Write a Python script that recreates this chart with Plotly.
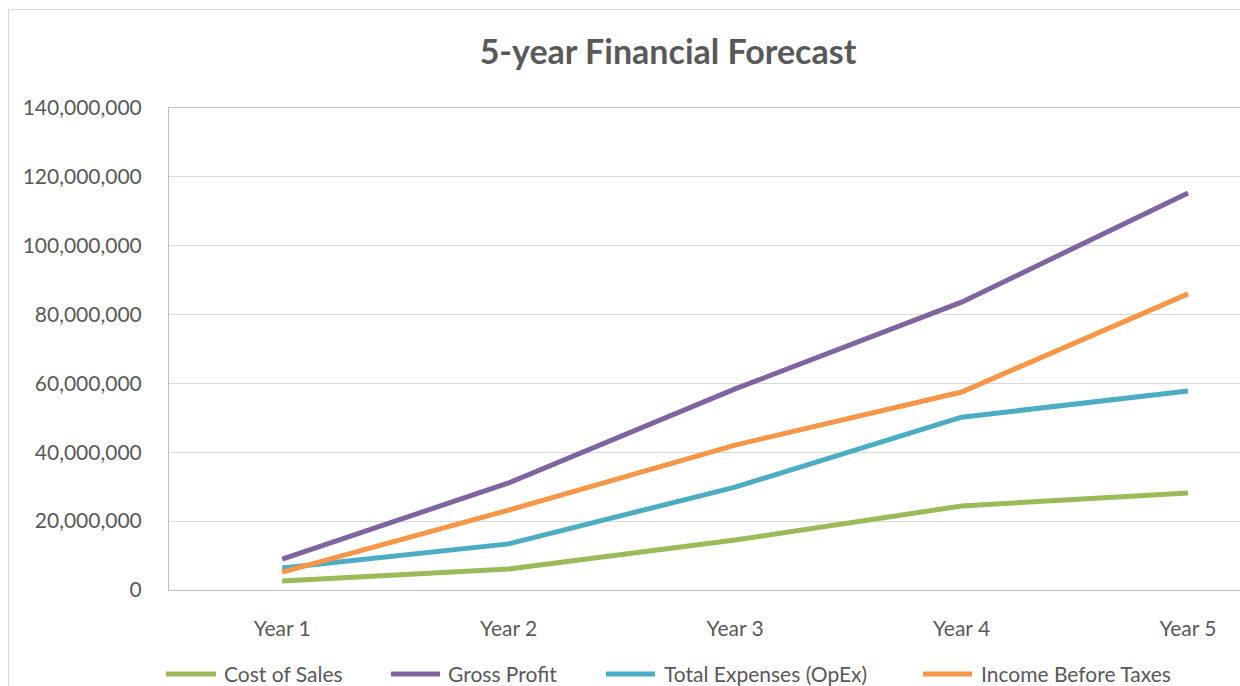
import plotly.graph_objects as go

categories = ["Year 1", "Year 2", "Year 3", "Year 4", "Year 5"]
cost_of_sales = [2.6e6, 6.1e6, 14.5e6, 24.4e6, 28.2e6]
gross_profit = [9.0e6, 31.1e6, 58.4e6, 83.6e6, 115.3e6]
total_expenses = [6.4e6, 13.4e6, 29.9e6, 50.2e6, 57.8e6]
income_before_taxes = [5.2e6, 23.2e6, 42.1e6, 57.5e6, 86.0e6]

series_names = ["Cost of Sales", "Gross Profit", "Total Expenses (OpEx)", "Income Before Taxes"]
series_values = [cost_of_sales, gross_profit, total_expenses, income_before_taxes]
colors = ["#9BBB59", "#8064A2", "#4BACC6", "#F79646"]

W, H = 1240, 686
L, T, B = 169, 108, 590  # plot area pixels
PW = W - L
PH = B - T
FONT = "Lato"
TXT = "#595959"

def px(x):
    return (x - L) / PW

def py(y):
    return (B - y) / PH

fig = go.Figure()
for name, vals, col in zip(series_names, series_values, colors):
    fig.add_trace(go.Scatter(x=categories, y=vals, name=name, mode="lines",
                             line=dict(color=col, width=5), showlegend=False))

# chart border (cropped frame)
shapes = [dict(type="rect", xref="paper", yref="paper",
               x0=px(8.5), x1=px(1300), y0=py(800), y1=py(9.5),
               line=dict(color="#d9d9d9", width=1), layer="below")]

# manual legend
legend_pos = [(164, 218, 222), (389, 442, 446), (604, 657, 662), (921, 974, 979)]
annotations = []
ly = 673
for (x0, x1, tx), name, col in zip(legend_pos, series_names, colors):
    shapes.append(dict(type="line", xref="paper", yref="paper",
                       x0=px(x0 + 2), x1=px(x1 - 2), y0=py(ly + 1), y1=py(ly + 1),
                       line=dict(color=col, width=5)))
    annotations.append(dict(text=name, xref="paper", yref="paper",
                            x=px(tx), y=py(ly), xanchor="left", yanchor="middle",
                            showarrow=False, font=dict(family=FONT, size=21, color=TXT)))

fig.update_layout(
    width=W, height=H,
    margin=dict(l=L, r=0, t=T, b=H - B, pad=0),
    paper_bgcolor="white", plot_bgcolor="white",
    title=dict(text="<b>5-year Financial Forecast</b>", x=px(668), xref="paper",
               xanchor="center", y=1 - 52 / H, yref="container", yanchor="middle",
               font=dict(family=FONT, size=34, color=TXT)),
    shapes=shapes,
    annotations=annotations,
    showlegend=False,
    xaxis=dict(type="category", categoryorder="array", categoryarray=categories,
               range=[-0.5, (W - 282) / 226.5], showgrid=False, showline=True,
               mirror=True, linecolor="#bfbfbf", linewidth=1, ticks="",
               ticklabelstandoff=20, tickfont=dict(family=FONT, size=21, color=TXT),
               zeroline=False),
    yaxis=dict(range=[0, 140e6], dtick=20e6, tickformat=",d", showgrid=True,
               gridcolor="#d9d9d9", gridwidth=1, showline=True, linecolor="#bfbfbf",
               linewidth=1, ticks="", ticklabelstandoff=22, zeroline=False,
               tickfont=dict(family=FONT, size=21, color=TXT)),
)

fig.write_html("out.html")
